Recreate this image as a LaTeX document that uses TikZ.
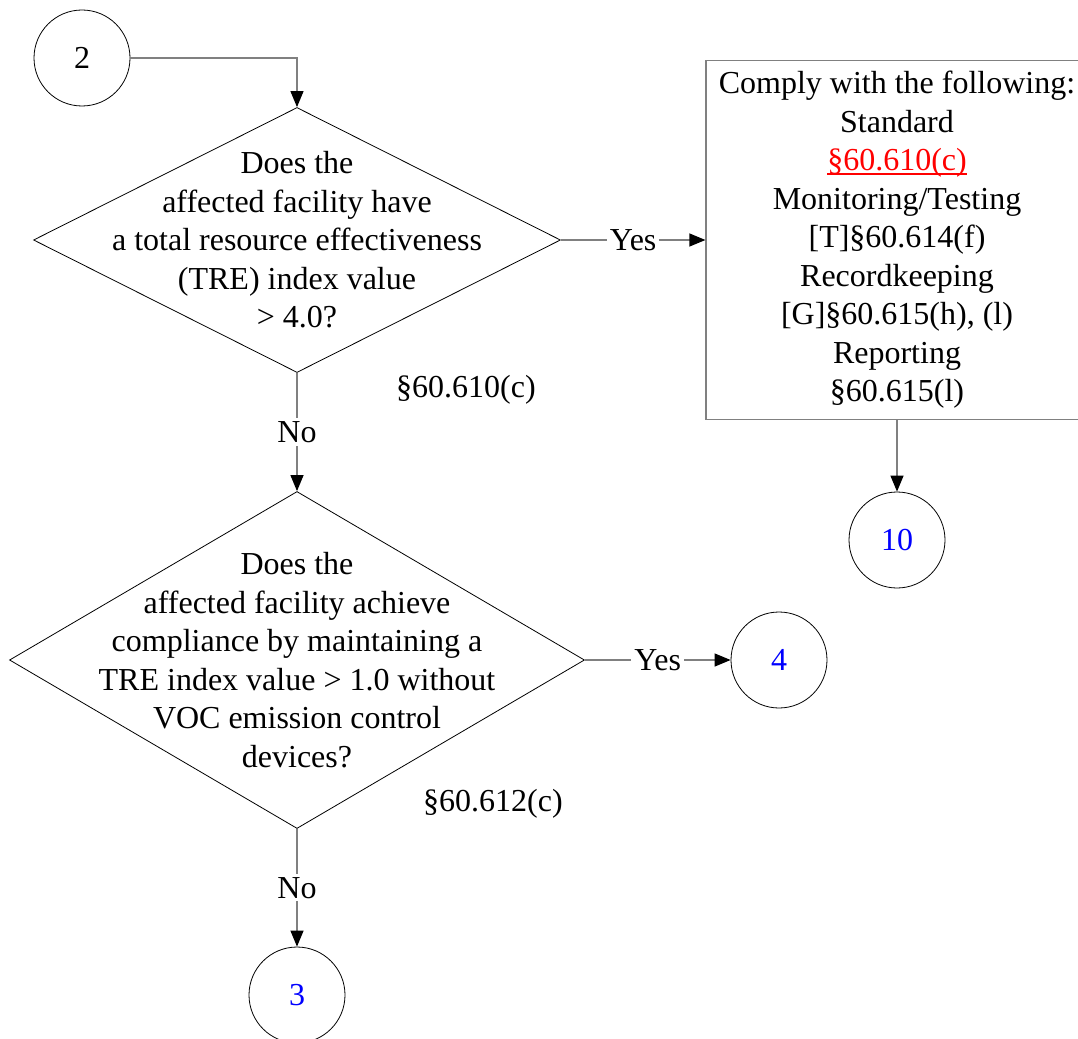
\documentclass[tikz,border=0pt]{standalone}
\usepackage{fontspec}
\setmainfont{Liberation Serif}
\usepackage{xcolor}
\usetikzlibrary{shapes.geometric}
\usetikzlibrary{arrows.meta}
\newcommand{\circsize}{96pt}
\newcommand{\redlink}[1]{\textcolor{red}{\setbox0\hbox{#1}\rlap{\rule[-4pt]{\wd0}{1.5pt}}\box0}}

\begin{document}
\begin{tikzpicture}[x=1pt,y=-1pt,font=\fontsize{32}{38.5}\selectfont,
    decision/.style={diamond,draw=black,thick,inner sep=0pt},
    infobox/.style={rectangle,draw=gray,line width=1.2pt,align=center},
    lbl/.style={fill=white,inner sep=3pt}]
                \useasboundingbox (0,0) rectangle (1078,1038);
                \clip (0,0) rectangle (1078,1038);

                \begin{scope}[every node/.style={circle,thick,draw,minimum size=\circsize}]
                    \node (c2) at (82,58) {2};
                    \node[text=blue] (c10) at (897,540) {10};
                    \node[text=blue] (c4) at (779,660) {4};
                    \node[text=blue] (c3) at (297,995) {3};
                \end{scope}

                \node[decision,minimum width=527pt,minimum height=265pt] (q1) at (297,240) {};
                \node[align=center] (q1text) at (q1.center) {Does the\\affected facility have\\a total resource effectiveness\\(TRE) index value\\> 4.0?};
                \node (ref1) at (466,390) {§60.610(c)};

                \node[decision,minimum width=575pt,minimum height=337pt] (q2) at (297,660) {};
                \node[align=center] (q2text) at (q2.center) {Does the\\affected facility achieve\\compliance by maintaining a\\TRE index value > 1.0 without\\VOC emission control\\devices?};
                \node (ref2) at (493,804) {§60.612(c)};

                \node[infobox,minimum width=382pt,minimum height=359pt] (comply) at (897,240)
                    {Comply with the following:\\Standard\\\redlink{§60.610(c)}\\Monitoring/Testing\\{}[T]§60.614(f)\\Recordkeeping\\{}[G]§60.615(h), (l)\\Reporting\\§60.615(l)};

                \begin{scope}[>={Triangle[black,length=16pt,width=13pt]},
                    every edge/.style={draw=gray,line width=1.2pt}]
                    \draw [->,draw=gray,line width=1.2pt] (c2) -| (q1.north);
                    \path [->] (q1.east) edge node[lbl] {Yes} (comply.west);
                    \path [->] (q1.south) edge node[lbl] {No} (q2.north);
                    \path [->] (q2.east) edge node[lbl] {Yes} (c4);
                    \path [->] (q2.south) edge node[lbl] {No} (c3);
                    \path [->] (comply.south) edge node {} (c10);
                \end{scope}
            \end{tikzpicture}
\end{document}
